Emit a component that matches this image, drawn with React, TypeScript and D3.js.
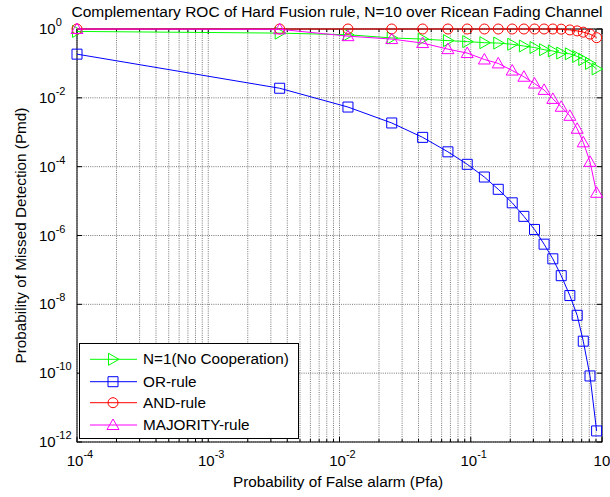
import React from "react";
import * as d3 from "d3";

// false alarm probabilities (x) shared by every curve
const pfa = [1e-4, 0.0035, 0.0116, 0.025, 0.043, 0.067, 0.094, 0.127, 0.162, 0.207, 0.254, 0.306, 0.362, 0.422, 0.489, 0.569, 0.647, 0.72, 0.81, 0.91];

const noCoop = [0.85, 0.76, 0.68, 0.55, 0.51, 0.46, 0.43, 0.4, 0.39, 0.36, 0.32, 0.29, 0.25, 0.23, 0.2, 0.19, 0.16, 0.13, 0.1, 0.069];
const orRule = [0.186, 0.019, 5.4e-3, 1.86e-3, 7.1e-4, 2.7e-4, 1.17e-4, 5.0e-5, 2.2e-5, 8.9e-6, 3.6e-6, 1.5e-6, 5.6e-7, 2.1e-7, 6.8e-8, 1.8e-8, 4.8e-9, 8.5e-10, 8.3e-11, 2.1e-12];
const andRule = [1, 1, 1, 1, 1, 1, 1, 1, 1, 1, 1, 1, 1, 1, 0.99, 0.94, 0.88, 0.81, 0.71, 0.56];
const majority = [1.0, 0.98, 0.62, 0.51, 0.39, 0.26, 0.2, 0.13, 0.1, 0.062, 0.041, 0.026, 0.017, 0.0093, 0.0055, 0.003, 0.00126, 5.1e-4, 1.38e-4, 1.74e-5];

const seriesNames = ["N=1(No Cooperation)", "OR-rule", "AND-rule", "MAJORITY-rule"];
const seriesColors = ["#00ff00", "#0000ff", "#ff0000", "#ff00ff"];
const seriesMarkers = ["triRight", "square", "circle", "triUp"];

const xTickExp = [-4, -3, -2, -1, 0];
const yTickExp = [0, -2, -4, -6, -8, -10, -12];

const W = 610;
const H = 497;
const m = { left: 77, right: 602, top: 29, bottom: 442 };
const font = "'Liberation Sans', Arial, sans-serif";

const markerPath = (kind: string) => {
  const s = 5;
  if (kind === "square") return `M${-s},${-s}H${s}V${s}H${-s}Z`;
  if (kind === "triUp") return `M0,${-s - 1}L${s + 1},${s - 0.5}L${-s - 1},${s - 0.5}Z`;
  if (kind === "triRight") return `M${s + 1},0L${-s + 0.5},${-s - 1}L${-s + 0.5},${s + 1}Z`;
  return "";
};

const Marker = ({ kind, x, y, color }: { kind: string; x: number; y: number; color: string }) =>
  kind === "circle" ? (
    <circle cx={x} cy={y} r={5} fill="none" stroke={color} strokeWidth={1} />
  ) : (
    <path d={markerPath(kind)} transform={`translate(${x},${y})`} fill="none" stroke={color} strokeWidth={1} />
  );

const Pow = ({ x, y, e, anchor }: { x: number; y: number; e: number; anchor: string }) => (
  <text x={x} y={y} textAnchor={anchor} fontSize={15} fontFamily={font} fill="#000">
    10
    <tspan dy={-8} fontSize={11}>
      {e}
    </tspan>
  </text>
);

export default function App() {
  const x = d3.scaleLog().domain([1e-4, 1]).range([m.left, m.right]);
  const y = d3.scaleLog().domain([1e-12, 1]).range([m.bottom, m.top]);

  const allSeries = [noCoop, orRule, andRule, majority];
  const line = d3
    .line<[number, number]>()
    .x((d) => x(d[0]))
    .y((d) => y(d[1]));

  // minor + major x grid positions
  const xGrid: { v: number; major: boolean }[] = [];
  for (let e = -4; e < 0; e++) for (let k = 1; k <= 9; k++) xGrid.push({ v: k * Math.pow(10, e), major: k === 1 });
  xGrid.push({ v: 1, major: true });

  const legendRows = [359.3, 381.7, 402.7, 425];

  return (
    <svg width={W} height={H} style={{ position: "absolute", left: 0, top: 0, background: "#fff" }}>
      <rect width={W} height={H} fill="#fff" />

      {/* grid */}
      {xGrid.map((g, i) => (
        <line key={"gx" + i} x1={x(g.v)} x2={x(g.v)} y1={m.top} y2={m.bottom} stroke="#555" strokeWidth={0.8} strokeDasharray="1,1.2" />
      ))}
      {yTickExp.map((e) => (
        <line key={"gy" + e} x1={m.left} x2={m.right} y1={y(Math.pow(10, e))} y2={y(Math.pow(10, e))} stroke="#555" strokeWidth={0.8} strokeDasharray="1,1.2" />
      ))}

      {/* ticks */}
      {xGrid.map((g, i) => {
        const len = g.major ? 5 : 3;
        return (
          <g key={"tx" + i} stroke="#000" strokeWidth={1}>
            <line x1={x(g.v)} x2={x(g.v)} y1={m.bottom} y2={m.bottom - len} />
            <line x1={x(g.v)} x2={x(g.v)} y1={m.top} y2={m.top + len} />
          </g>
        );
      })}
      {yTickExp.map((e) => (
        <g key={"ty" + e} stroke="#000" strokeWidth={1}>
          <line x1={m.left} x2={m.left + 5} y1={y(Math.pow(10, e))} y2={y(Math.pow(10, e))} />
          <line x1={m.right} x2={m.right - 5} y1={y(Math.pow(10, e))} y2={y(Math.pow(10, e))} />
        </g>
      ))}

      {/* box */}
      <rect x={m.left} y={m.top} width={m.right - m.left} height={m.bottom - m.top} fill="none" stroke="#000" strokeWidth={1} />

      {/* tick labels */}
      {xTickExp.map((e) => (
        <Pow key={"lx" + e} x={x(Math.pow(10, e)) + 3} y={466} e={e} anchor="middle" />
      ))}
      {yTickExp.map((e) => (
        <Pow key={"ly" + e} x={39} y={y(Math.pow(10, e)) + 5} e={e} anchor="start" />
      ))}

      {/* series */}
      {allSeries.map((s, si) => {
        const pts = pfa.map((p, i) => [p, s[i]] as [number, number]);
        return (
          <g key={"s" + si}>
            <path d={line(pts) || ""} fill="none" stroke={seriesColors[si]} strokeWidth={1} />
            {pts.map((d, i) => (
              <Marker key={i} kind={seriesMarkers[si]} x={x(d[0])} y={y(d[1])} color={seriesColors[si]} />
            ))}
          </g>
        );
      })}

      {/* legend */}
      <rect x={79.5} y={343.5} width={219} height={95} fill="#fff" stroke="#000" strokeWidth={1} />
      {seriesNames.map((n, i) => (
        <g key={"lg" + i}>
          <line x1={90} x2={137} y1={legendRows[i]} y2={legendRows[i]} stroke={seriesColors[i]} strokeWidth={1} />
          <Marker kind={seriesMarkers[i]} x={113} y={legendRows[i]} color={seriesColors[i]} />
          <text x={143} y={legendRows[i] + 5} fontSize={15.3} fontFamily={font} fill="#000">
            {n}
          </text>
        </g>
      ))}

      {/* title + labels */}
      <text x={337} y={17} textAnchor="middle" fontSize={15.5} fontFamily={font} fill="#000">
        Complementary ROC of Hard Fusion rule, N=10 over Ricean Fading Channel
      </text>
      <text x={338} y={487} textAnchor="middle" fontSize={15.3} fontFamily={font} fill="#000">
        Probability of False alarm (Pfa)
      </text>
      <text transform={`translate(26,${(m.top + m.bottom) / 2}) rotate(-90)`} textAnchor="middle" fontSize={15.3} fontFamily={font} fill="#000">
        Probability of Missed Detection (Pmd)
      </text>
    </svg>
  );
}
